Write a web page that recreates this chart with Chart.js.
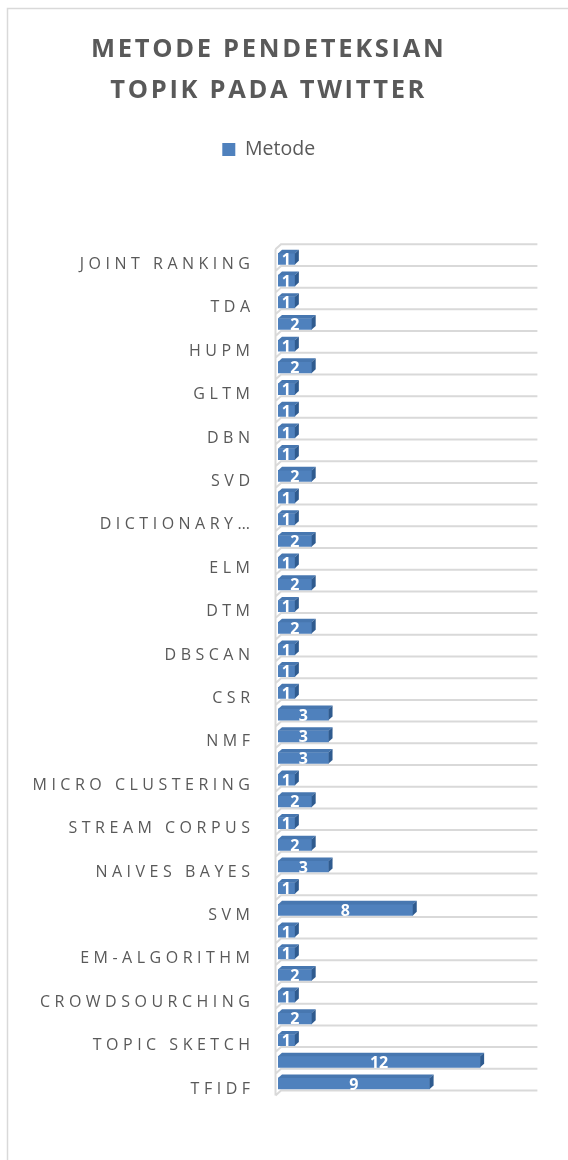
<!DOCTYPE html>
<html><head><meta charset="utf-8">
<script src="https://cdn.jsdelivr.net/npm/chart.js@4.4.1/dist/chart.umd.min.js"></script>
<style>html,body{margin:0;padding:0;background:#fff;overflow:hidden}#wrap{width:568px;height:1160px}</style>
</head><body><div id="wrap"><canvas id="c" width="568" height="1160"></canvas></div>
<script>
// ---- data ----
const categories = ['JOINT RANKING','', 'TDA','', 'HUPM','', 'GLTM','', 'DBN','', 'SVD','', 'DICTIONARY…','', 'ELM','', 'DTM','', 'DBSCAN','', 'CSR','', 'NMF','', 'MICRO CLUSTERING','', 'STREAM CORPUS','', 'NAIVES BAYES','', 'SVM','', 'EM-ALGORITHM','', 'CROWDSOURCHING','', 'TOPIC SKETCH','', 'TFIDF'];
const metode = [1,1,1,2,1,2,1,1,1,1, 2,1,1,2,1,2,1,2,1,1, 1,3,3,3,1,2,1,2,3,1, 8,1,1,2,1,2,1,12,9];
const seriesName = 'Metode';
const titleLines = ['METODE PENDETEKSIAN','TOPIK PADA TWITTER'];

// ---- style ----
const FRONT = '#4F81BD', TOP = '#4777B0', SIDE = '#2F5B8F', GRID = '#d9d9d9', TEXT = '#595959';
const DX = 4, DY = 3.6;

const threeD = {
  id: 'threeD',
  beforeDraw(chart) {
    const ctx = chart.ctx;
    ctx.save();
    ctx.fillStyle = '#fff';
    ctx.fillRect(0, 0, chart.width, chart.height);
    ctx.strokeStyle = GRID; ctx.lineWidth = 1.5;
    ctx.beginPath(); ctx.moveTo(7.5, chart.height); ctx.lineTo(7.5, 8.5); ctx.lineTo(chart.width, 8.5); ctx.stroke();
    ctx.restore();
    const ys = chart.scales.y;
    if (ys && !ys.__ls) {
      const orig = ys.drawLabels;
      ys.drawLabels = function (a) { const c = this.ctx; c.save(); c.letterSpacing = '4.5px'; orig.call(this, a); c.restore(); };
      ys.__ls = true;
    }
    const tb = chart.titleBlock;
    if (tb && !tb.__ls) {
      const origT = tb.draw;
      tb.draw = function (a) { const c = this.ctx; c.save(); c.letterSpacing = '2.7px'; origT.call(this, a); c.restore(); };
      tb.__ls = true;
    }
  },
  beforeDatasetsDraw(chart) {
    const ctx = chart.ctx, area = chart.chartArea, ys = chart.scales.y;
    const band = Math.abs(ys.getPixelForValue(1) - ys.getPixelForValue(0));
    const bars = chart.getDatasetMeta(0).data;
    const half = bars[0].height / 2;
    const lines = [bars[0].y + half + 1.5 - band];
    bars.forEach(b => lines.push(b.y + half + 1.5));
    const x0 = area.left + 3, xw = area.left - 2.5;
    ctx.save();
    ctx.strokeStyle = GRID; ctx.lineWidth = 2;
    ctx.beginPath();
    lines.forEach(g => { ctx.moveTo(xw, g + 5); ctx.lineTo(x0, g); ctx.lineTo(area.right, g); });
    ctx.moveTo(xw, lines[0] + 5); ctx.lineTo(xw, lines[lines.length - 1] + 5);
    ctx.stroke();
    ctx.restore();
  },
  afterDatasetsDraw(chart) {
    const ctx = chart.ctx;
    const meta = chart.getDatasetMeta(0);
    const vals = chart.data.datasets[0].data;
    ctx.save();
    meta.data.forEach((b) => {
      const p = b.getProps(['x', 'y', 'base', 'height'], true);
      const top = p.y - p.height / 2, bot = p.y + p.height / 2, L = p.base, R = p.x;
      ctx.fillStyle = TOP;
      ctx.beginPath(); ctx.moveTo(L, top); ctx.lineTo(R, top); ctx.lineTo(R + DX, top - DY); ctx.lineTo(L + DX, top - DY); ctx.closePath(); ctx.fill();
      ctx.fillStyle = SIDE;
      ctx.beginPath(); ctx.moveTo(R, top); ctx.lineTo(R + DX, top - DY); ctx.lineTo(R + DX, bot - DY); ctx.lineTo(R, bot); ctx.closePath(); ctx.fill();
    });
    ctx.fillStyle = '#fff';
    ctx.font = 'bold 16px "Open Sans"';
    ctx.textAlign = 'center'; ctx.textBaseline = 'middle';
    meta.data.forEach((b, i) => {
      const p = b.getProps(['x', 'y', 'base'], true);
      ctx.fillText(String(vals[i]), (p.base + p.x) / 2, p.y + 1.5);
    });
    ctx.restore();
  }
};

new Chart(document.getElementById('c'), {
  type: 'bar',
  data: {
    labels: categories,
    datasets: [{
      label: seriesName,
      data: metode,
      backgroundColor: FRONT,
      borderWidth: 0,
      barThickness: 11
    }]
  },
  options: {
    indexAxis: 'y',
    responsive: false,
    animation: false,
    devicePixelRatio: 1,
    layout: { padding: { top: 0, left: 0, right: 30.6, bottom: 65.65 } },
    plugins: {
      tooltip: { enabled: false },
      title: {
        display: true,
        text: titleLines,
        color: TEXT,
        font: { family: 'Open Sans', size: 25.5, weight: 'bold', lineHeight: 1.58 },
        padding: { top: 30, bottom: 19.1 }
      },
      legend: {
        display: true,
        position: 'top',
        labels: {
          boxWidth: 13, boxHeight: 13, padding: 10, color: TEXT,
          font: { family: 'Open Sans', size: 19.5 }
        }
      }
    },
    scales: {
      x: {
        type: 'linear', position: 'top', min: 0, max: 15.4,
        grid: { display: false }, border: { display: false },
        ticks: { display: false },
        afterFit(s) { s.height = 78.9; }
      },
      y: {
        type: 'category',
        grid: { display: false }, border: { display: false },
        ticks: {
          autoSkip: false, color: TEXT, padding: 15.5, labelOffset: 5.5,
          font: { family: 'Open Sans', size: 16 }
        },
        afterFit(s) { s.width = 278; }
      }
    }
  },
  plugins: [threeD]
});
</script>
</body></html>
